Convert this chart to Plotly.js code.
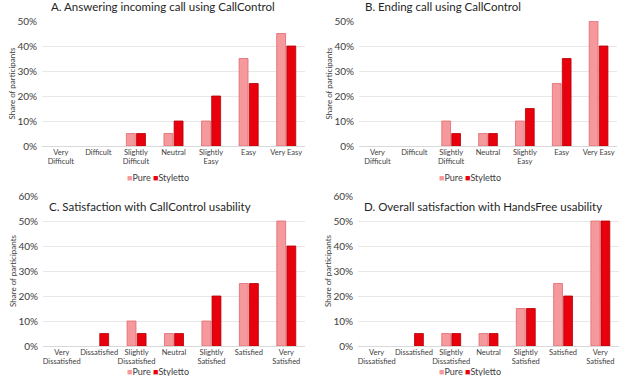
<!DOCTYPE html>
<html><head><meta charset="utf-8">
<script src="https://cdn.plot.ly/plotly-3.0.1.min.js"></script>
<style>html,body{margin:0;padding:0;background:#fff}#chart{width:627px;height:376px}</style>
</head><body><div id="chart"></div>
<script>
const easeCategories = ["Very<br>Difficult","Difficult","Slightly<br>Difficult","Neutral","Slightly<br>Easy","Easy","Very Easy"];
const satCategories = ["Very<br>Dissatisfied","Dissatisfied","Slightly<br>Dissatisfied","Neutral","Slightly<br>Satisfied","Satisfied","Very<br>Satisfied"];
const seriesNames = ["Pure","Styletto"];
const panelTitles = ["A. Answering incoming call using CallControl","B. Ending call using CallControl","C. Satisfaction with CallControl usability","D. Overall satisfaction with HandsFree usability"];
const answerPure = [0,0,5,5,10,35,45];
const answerStyletto = [0,0,5,10,20,25,40];
const endPure = [0,0,10,5,10,25,50];
const endStyletto = [0,0,5,5,15,35,40];
const satCCPure = [0,0,10,5,10,25,50];
const satCCStyletto = [0,5,5,5,20,25,40];
const satHFPure = [0,0,5,5,15,25,50];
const satHFStyletto = [0,5,5,5,15,20,50];
const yTickVals = [0,10,20,30,40,50,60];
const yTickText = ["0%","10%","20%","30%","40%","50%","60%"];

const fills = ["#f5999c","#e8000d"];
const edges = ["#e06a70","#b30008"];
const font = "Lato, 'Open Sans', sans-serif";
const txt = "#404040";

const panels = [
  {cats: easeCategories, vals:[answerPure, answerStyletto], ymax:50, xd:[42/627,305/627], yd:[1-146/376,1-21/376]},
  {cats: easeCategories, vals:[endPure, endStyletto], ymax:50, xd:[359/627,617/627], yd:[1-146/376,1-21/376]},
  {cats: satCategories, vals:[satCCPure, satCCStyletto], ymax:60, xd:[43/627,305/627], yd:[1-346/376,1-196/376]},
  {cats: satCategories, vals:[satHFPure, satHFStyletto], ymax:60, xd:[358/627,619/627], yd:[1-346/376,1-196/376]}
];

const data = [];
const layout = {
  width:627, height:376, margin:{l:0,r:0,t:0,b:0},
  paper_bgcolor:"#fff", plot_bgcolor:"#fff",
  font:{family:font, color:txt, size:9},
  showlegend:false, barmode:"group", bargap:0.46, bargroupgap:0.12,
  annotations:[]
};
const titleY = [1-7/376, 1-7/376, 1-206/376, 1-206/376];
const titleX = [49/627, 363/627, 47/627, 362/627];
const legendY = [1-177/376, 1-177/376, 1-371/376, 1-371/376];
const legendX = [158/627, 470/627, 158/627, 470/627];

panels.forEach((p,i)=>{
  const s = i===0 ? "" : String(i+1);
  for(let k=0;k<2;k++){
    data.push({type:"bar", x:p.cats, y:p.vals[k], name:seriesNames[k],
      xaxis:"x"+s, yaxis:"y"+s,
      marker:{color:fills[k], line:{color:edges[k], width:p.vals[k].map(v=>v>0?0.8:0)}}, hoverinfo:"skip"});
  }
  layout["xaxis"+s] = {domain:p.xd, anchor:"y"+s, type:"category", showgrid:false, zeroline:false,
    showline:false, ticks:"", tickangle:0, tickfont:{size:7.5,color:txt}, fixedrange:true};
  layout["yaxis"+s] = {domain:p.yd, anchor:"x"+s, range:[0,p.ymax], tickvals:yTickVals, ticktext:yTickText,
    showgrid:true, gridcolor:"#e8e8e8", gridwidth:1, zeroline:true, zerolinecolor:"#d9d9d9", zerolinewidth:1,
    showline:false, ticks:"", tickfont:{size:10,color:txt}, ticklabelstandoff:4,
    title:{text:"Share of participants", font:{size:8,color:txt}, standoff:0}, fixedrange:true};
  layout.annotations.push({xref:"paper", yref:"paper", x:titleX[i], y:titleY[i], xanchor:"left", yanchor:"middle",
    text:panelTitles[i], showarrow:false, font:{size:11.5,color:"#262626", family:font}});
  layout.annotations.push({xref:"paper", yref:"paper", x:legendX[i], y:legendY[i], xanchor:"center", yanchor:"middle",
    text:'<span style="color:'+fills[0]+'">■</span>'+seriesNames[0]+' <span style="color:'+fills[1]+'">■</span>'+seriesNames[1],
    showarrow:false, font:{size:9,color:txt,family:font}});
});

Plotly.newPlot("chart", data, layout, {staticPlot:true, displayModeBar:false});
</script></body></html>
